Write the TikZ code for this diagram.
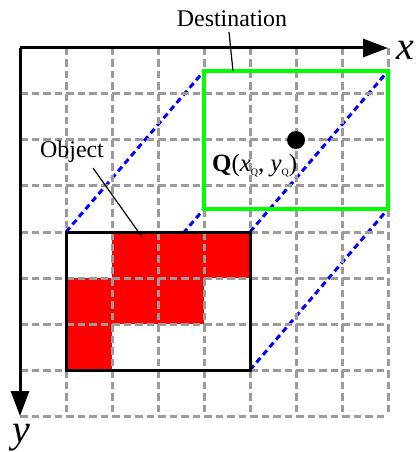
\documentclass[tikz,border=0pt]{standalone}
\usepackage{fontspec}
\setmainfont{Liberation Serif}
\usetikzlibrary{arrows.meta}
\definecolor{gridgray}{RGB}{155,155,155}
\definecolor{pureblue}{RGB}{0,0,255}
\definecolor{puregreen}{RGB}{0,255,0}
\definecolor{purered}{RGB}{255,0,0}
\newcommand\qsub{\raisebox{-4bp}{\fontsize{10}{10}\selectfont Q}}
\begin{document}
\begin{tikzpicture}[x=1bp,y=-1bp,
  gridline/.style={draw=gridgray,line width=3bp,dash pattern=on 7.5bp off 4bp},
  proj/.style={draw=pureblue,line width=3bp,dash pattern=on 6bp off 4bp},
  objbox/.style={draw=black,line width=3bp},
  destbox/.style={draw=puregreen,line width=3.5bp},
  axis/.style={draw=black,line width=3bp,-{Triangle[length=25bp,width=18bp]}},
  leader/.style={draw=black,line width=1.2bp},
  lbl/.style={font=\fontsize{24}{24}\selectfont,inner sep=0pt,anchor=base},
  axlbl/.style={font=\fontsize{40}{40}\selectfont\itshape,inner sep=0pt,anchor=base}]
\useasboundingbox (0,0) rectangle (416,452);
% corners
\coordinate (o1) at (66,232); \coordinate (o2) at (250,232);
\coordinate (o3) at (250,370); \coordinate (o4) at (66,370);
\coordinate (d1) at (204,71); \coordinate (d2) at (388,71);
\coordinate (d3) at (388,209); \coordinate (d4) at (204,209);
% projection lines
\draw[proj] (o1) -- (d1);
\draw[proj] (o2) -- (d2);
\draw[proj] (o3) -- (d3);
\draw[proj] (o4) -- (d4);
% object fill
\fill[white] (o1) rectangle (o3);
\fill[purered] (112,232) rectangle (250,278);
\fill[purered] (66,278) rectangle (204,324);
\fill[purered] (66,324) rectangle (112,370);
% grid
\foreach \i in {1,...,8} {
  \draw[gridline] (20+46*\i,48) -- (20+46*\i,416);
  \draw[gridline] (20,48+46*\i) -- (388,48+46*\i);
}
% boxes
\draw[objbox] (o1) rectangle (o3);
\draw[destbox] (d1) rectangle (d3);
% axes
\coordinate (org) at (20,48);
\coordinate (xend) at (388,48);
\coordinate (yend) at (20,416);
\draw[axis] (org) -- (xend);
\draw[axis] (org) -- (yend);
\node[axlbl] (xl) at (405,60) {x};
\node[axlbl] (yl) at (21,442) {y};
% point Q
\fill[black] (296,140) circle (9bp);
\node[inner sep=0pt,anchor=base west,font=\fontsize{25}{25}\selectfont] (ql) at (212,172)
  {\textbf{Q}(\textit{x}\qsub, \textit{y}\qsub)};
% labels
\node[lbl] (dest) at (232,27) {Destination};
\coordinate (destpt) at (233,71);
\draw[leader] (229,32) -- (destpt);
\node[lbl] (obj) at (72,158) {Object};
\coordinate (objpt) at (142,237);
\draw[leader] (93,168) -- (objpt);
\end{tikzpicture}
\end{document}
